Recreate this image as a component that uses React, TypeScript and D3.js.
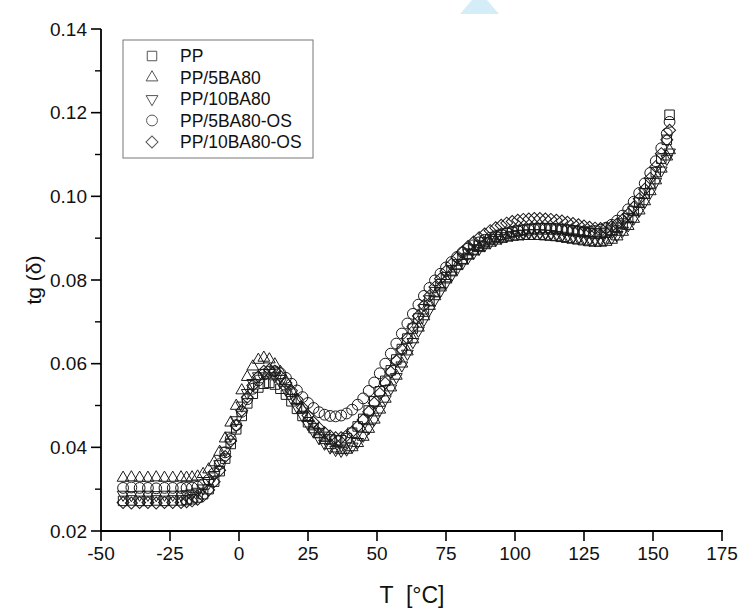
import React from "react";
import * as d3 from "d3";

const temps = [
  -42, -39, -36, -33, -30, -27, -24, -21,
  -19, -17, -15, -13, -11, -9, -7, -5, -3, -1,
  1, 3, 5, 7, 9, 11, 13, 15, 17, 19,
  21, 23, 25, 27, 29, 31, 33, 35, 37, 39,
  41, 43, 45, 47, 49, 51, 53, 55, 57, 59,
  61, 63, 65, 67, 69, 71, 73, 75, 77, 79,
  81, 83, 85, 87, 89, 91, 93, 95, 97, 99,
  101, 103, 105, 107, 109, 111, 113, 115, 117, 119,
  121, 123, 125, 127, 129, 131, 133, 135, 137, 139,
  141, 143, 145, 147, 149, 151, 153, 155, 156,
];

const ppValues = [
  0.0272, 0.0273, 0.0272, 0.0272, 0.0273, 0.0272, 0.0273, 0.0273,
  0.0274, 0.0276, 0.0280, 0.0288, 0.0300, 0.0318, 0.0343, 0.0373, 0.0408, 0.0443,
  0.0475, 0.0505, 0.0528, 0.0543, 0.0552, 0.0554, 0.0550, 0.0540, 0.0526, 0.0510,
  0.0492, 0.0475, 0.0460, 0.0446, 0.0434, 0.0425, 0.0419, 0.0416, 0.0417, 0.0422,
  0.0435, 0.0450, 0.0468, 0.0488, 0.0510, 0.0534, 0.0559, 0.0584, 0.0610, 0.0635,
  0.0660, 0.0684, 0.0708, 0.0730, 0.0751, 0.0771, 0.0790, 0.0807, 0.0823, 0.0838,
  0.0851, 0.0863, 0.0873, 0.0882, 0.0890, 0.0897, 0.0903, 0.0908, 0.0912, 0.0915,
  0.0918, 0.0920, 0.0922, 0.0923, 0.0924, 0.0924, 0.0924, 0.0923, 0.0922, 0.0920,
  0.0918, 0.0916, 0.0914, 0.0912, 0.0911, 0.0911, 0.0913, 0.0918, 0.0925, 0.0935,
  0.0948, 0.0965, 0.0985, 0.1007, 0.1031, 0.1058, 0.1090, 0.1135, 0.1195,
];

const pp5ba80Values = [
  0.0327, 0.0328, 0.0327, 0.0327, 0.0328, 0.0327, 0.0327, 0.0328,
  0.0327, 0.0328, 0.0330, 0.0336, 0.0347, 0.0364, 0.0389, 0.0421, 0.0459, 0.0499,
  0.0536, 0.0568, 0.0593, 0.0609, 0.0614, 0.0610, 0.0598, 0.0580, 0.0558, 0.0535,
  0.0512, 0.0490, 0.0470, 0.0450, 0.0432, 0.0417, 0.0405, 0.0397, 0.0393, 0.0394,
  0.0400, 0.0410, 0.0425, 0.0444, 0.0466, 0.0490, 0.0516, 0.0543, 0.0571, 0.0600,
  0.0629, 0.0658, 0.0686, 0.0713, 0.0738, 0.0761, 0.0782, 0.0801, 0.0818, 0.0833,
  0.0846, 0.0858, 0.0868, 0.0876, 0.0883, 0.0889, 0.0894, 0.0898, 0.0901, 0.0903,
  0.0904, 0.0905, 0.0905, 0.0905, 0.0905, 0.0904, 0.0903, 0.0902, 0.0900, 0.0898,
  0.0896, 0.0894, 0.0892, 0.0890, 0.0889, 0.0889, 0.0891, 0.0896, 0.0904, 0.0915,
  0.0929, 0.0946, 0.0966, 0.0988, 0.1012, 0.1038, 0.1066, 0.1095, 0.1110,
];

const pp10ba80Values = [
  0.0287, 0.0286, 0.0287, 0.0287, 0.0286, 0.0287, 0.0287, 0.0287,
  0.0288, 0.0290, 0.0294, 0.0302, 0.0315, 0.0334, 0.0360, 0.0392, 0.0428, 0.0465,
  0.0500, 0.0530, 0.0554, 0.0570, 0.0578, 0.0578, 0.0570, 0.0556, 0.0538, 0.0518,
  0.0497, 0.0476, 0.0456, 0.0438, 0.0422, 0.0409, 0.0400, 0.0394, 0.0392, 0.0395,
  0.0402, 0.0413, 0.0428, 0.0446, 0.0467, 0.0490, 0.0515, 0.0541, 0.0568, 0.0596,
  0.0624, 0.0652, 0.0679, 0.0705, 0.0730, 0.0753, 0.0774, 0.0793, 0.0811, 0.0827,
  0.0841, 0.0854, 0.0865, 0.0875, 0.0883, 0.0890, 0.0896, 0.0901, 0.0905, 0.0908,
  0.0910, 0.0911, 0.0912, 0.0912, 0.0912, 0.0911, 0.0910, 0.0908, 0.0906, 0.0904,
  0.0902, 0.0900, 0.0898, 0.0896, 0.0895, 0.0895, 0.0897, 0.0901, 0.0908, 0.0918,
  0.0931, 0.0947, 0.0966, 0.0987, 0.1010, 0.1035, 0.1062, 0.1090, 0.1105,
];

const pp5ba80osValues = [
  0.0303, 0.0304, 0.0303, 0.0303, 0.0302, 0.0303, 0.0303, 0.0303,
  0.0303, 0.0304, 0.0306, 0.0312, 0.0322, 0.0338, 0.0360, 0.0388, 0.0420, 0.0453,
  0.0485, 0.0515, 0.0540, 0.0560, 0.0574, 0.0581, 0.0582, 0.0577, 0.0566, 0.0552,
  0.0536, 0.0520, 0.0506, 0.0494, 0.0484, 0.0478, 0.0475, 0.0474, 0.0476, 0.0481,
  0.0490, 0.0502, 0.0517, 0.0535, 0.0555, 0.0577, 0.0600, 0.0624, 0.0648, 0.0672,
  0.0696, 0.0719, 0.0741, 0.0762, 0.0781, 0.0799, 0.0815, 0.0830, 0.0843, 0.0855,
  0.0866, 0.0875, 0.0883, 0.0890, 0.0896, 0.0901, 0.0905, 0.0909, 0.0912, 0.0915,
  0.0917, 0.0919, 0.0920, 0.0921, 0.0922, 0.0922, 0.0922, 0.0921, 0.0920, 0.0919,
  0.0918, 0.0917, 0.0916, 0.0916, 0.0917, 0.0920, 0.0925, 0.0932, 0.0942, 0.0954,
  0.0969, 0.0987, 0.1008, 0.1031, 0.1056, 0.1084, 0.1115, 0.1150, 0.1178,
];

const pp10ba80osValues = [
  0.0268, 0.0267, 0.0268, 0.0268, 0.0267, 0.0268, 0.0268, 0.0268,
  0.0270, 0.0272, 0.0276, 0.0284, 0.0298, 0.0318, 0.0345, 0.0378, 0.0415, 0.0452,
  0.0488, 0.0520, 0.0548, 0.0569, 0.0582, 0.0586, 0.0582, 0.0570, 0.0554, 0.0535,
  0.0515, 0.0495, 0.0476, 0.0460, 0.0446, 0.0435, 0.0427, 0.0423, 0.0423, 0.0428,
  0.0437, 0.0450, 0.0466, 0.0485, 0.0506, 0.0529, 0.0554, 0.0580, 0.0607, 0.0634,
  0.0661, 0.0688, 0.0714, 0.0739, 0.0762, 0.0783, 0.0803, 0.0821, 0.0838, 0.0853,
  0.0867, 0.0880, 0.0891, 0.0901, 0.0910, 0.0918, 0.0925, 0.0931, 0.0936, 0.0940,
  0.0943, 0.0945, 0.0946, 0.0947, 0.0947, 0.0946, 0.0945, 0.0943, 0.0941, 0.0938,
  0.0935, 0.0932, 0.0929, 0.0926, 0.0924, 0.0923, 0.0924, 0.0928, 0.0934, 0.0944,
  0.0957, 0.0974, 0.0994, 0.1017, 0.1043, 0.1071, 0.1102, 0.1135, 0.1158,
];

const seriesNames = ["PP", "PP/5BA80", "PP/10BA80", "PP/5BA80-OS", "PP/10BA80-OS"];
const seriesValues = [ppValues, pp5ba80Values, pp10ba80Values, pp5ba80osValues, pp10ba80osValues];
const markerKinds = ["square", "triangleUp", "triangleDown", "circle", "diamond"];

const xTicks = [-50, -25, 0, 25, 50, 75, 100, 125, 150, 175];
const yTicks = [0.02, 0.04, 0.06, 0.08, 0.1, 0.12, 0.14];
const yMinorTicks = [0.03, 0.05, 0.07, 0.09, 0.11, 0.13];

const W = 743;
const H = 613;
const FONT = "'Liberation Sans', Arial, sans-serif";

function markerPath(kind: string): { d: string; rotate: number } {
  switch (kind) {
    case "square":
      return { d: d3.symbol().type(d3.symbolSquare).size(90)()!, rotate: 0 };
    case "triangleUp":
      return { d: d3.symbol().type(d3.symbolTriangle).size(60)()!, rotate: 0 };
    case "triangleDown":
      return { d: d3.symbol().type(d3.symbolTriangle).size(60)()!, rotate: 180 };
    case "circle":
      return { d: d3.symbol().type(d3.symbolCircle).size(92)()!, rotate: 0 };
    default:
      return { d: d3.symbol().type(d3.symbolSquare).size(72)()!, rotate: 45 };
  }
}

export default function App() {
  const x = d3.scaleLinear().domain([-50, 175]).range([101, 722]);
  const y = d3.scaleLinear().domain([0.02, 0.14]).range([531, 29]);
  const yFmt = d3.format(".2f");

  const legendX = 123;
  const legendY = 40;
  const legendW = 190;
  const legendH = 118;

  return (
    <div style={{ position: "absolute", left: 0, top: 0 }}>
      <svg width={W} height={H} xmlns="http://www.w3.org/2000/svg" style={{ display: "block", background: "#fff" }}>
        <rect x={0} y={0} width={W} height={H} fill="#fff" />
        {/* light blue watermark fragment */}
        <polygon points="460,14 499,14 487,0 472,0" fill="#d5edf9" />

        {/* data markers */}
        {seriesValues.map((vals, si) => {
          const m = markerPath(markerKinds[si]);
          return (
            <g key={si}>
              {temps.map((t, i) => (
                <path
                  key={i}
                  d={m.d}
                  transform={`translate(${x(t)},${y(vals[i])}) rotate(${m.rotate})`}
                  fill="none"
                  stroke="#1a1a1a"
                  strokeWidth={1}
                />
              ))}
            </g>
          );
        })}

        {/* axes */}
        <line x1={101} x2={101} y1={y(0.14)} y2={y(0.02) + 1} stroke="#000" strokeWidth={1.8} />
        <line x1={100} x2={x(175) + 1} y1={531} y2={531} stroke="#000" strokeWidth={1.8} />
        {yTicks.map((t) => (
          <g key={t}>
            <line x1={91} x2={101} y1={y(t)} y2={y(t)} stroke="#000" strokeWidth={1.6} />
            <text x={87} y={y(t)} dy="0.35em" textAnchor="end" fontFamily={FONT} fontSize={19} fill="#111">
              {yFmt(t)}
            </text>
          </g>
        ))}
        {yMinorTicks.map((t) => (
          <line key={t} x1={95} x2={101} y1={y(t)} y2={y(t)} stroke="#000" strokeWidth={1.4} />
        ))}
        {xTicks.map((t) => (
          <g key={t}>
            <line x1={x(t)} x2={x(t)} y1={531} y2={541} stroke="#000" strokeWidth={1.6} />
            <text x={x(t)} y={560} textAnchor="middle" fontFamily={FONT} fontSize={19} fill="#111">
              {t}
            </text>
          </g>
        ))}

        {/* axis titles */}
        <text
          transform={`translate(41,${y(0.08)}) rotate(-90)`}
          textAnchor="middle"
          fontFamily={FONT}
          fontSize={21}
          fill="#111"
        >
          tg (δ)
        </text>
        <text x={412} y={603} textAnchor="middle" fontFamily={FONT} fontSize={23} fill="#111" style={{ whiteSpace: "pre" }}>
          {"T  [°C]"}
        </text>

        {/* legend */}
        <rect x={legendX} y={legendY} width={legendW} height={legendH} fill="#fff" stroke="#777" strokeWidth={1} />
        {seriesNames.map((name, i) => {
          const m = markerPath(markerKinds[i]);
          const cy = legendY + 16 + i * 21.5;
          return (
            <g key={name}>
              <path
                d={m.d}
                transform={`translate(152,${cy}) rotate(${m.rotate})`}
                fill="none"
                stroke="#555"
                strokeWidth={1}
              />
              <text x={180} y={cy} dy="0.35em" fontFamily={FONT} fontSize={17.5} fill="#111">
                {name}
              </text>
            </g>
          );
        })}
      </svg>
    </div>
  );
}
